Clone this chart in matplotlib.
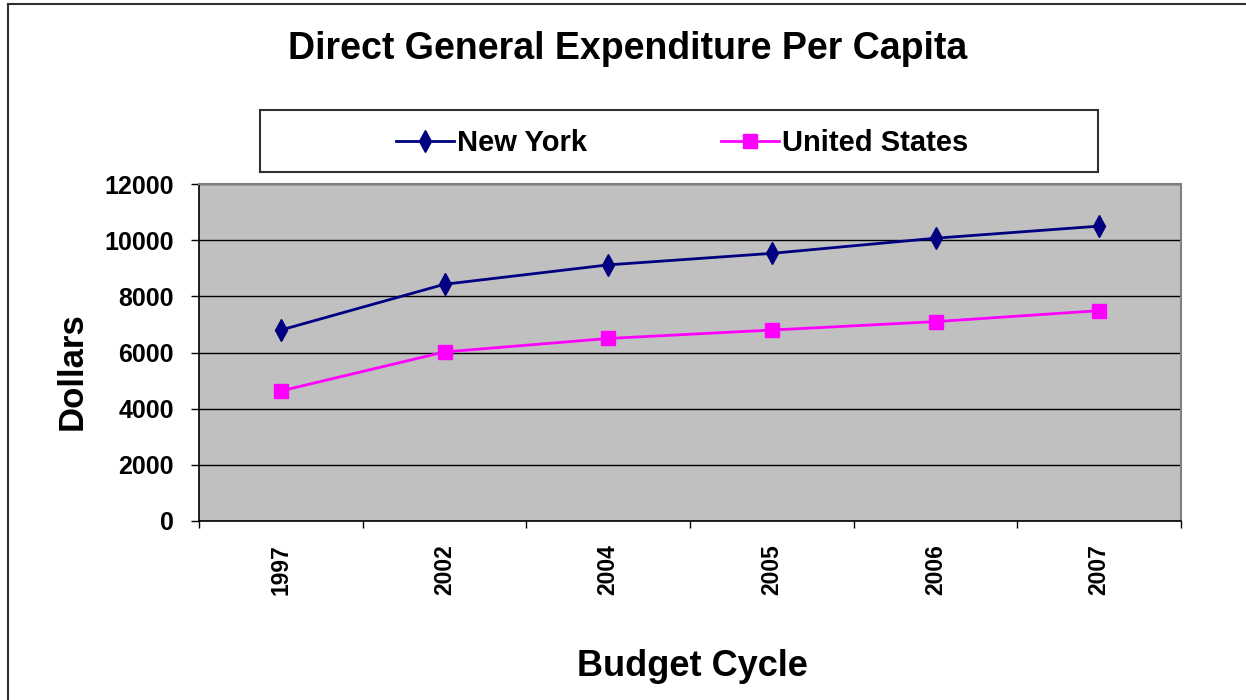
import numpy as np
import matplotlib
matplotlib.use("Agg")
import matplotlib.pyplot as plt
from matplotlib.patches import Rectangle
from matplotlib.lines import Line2D

plt.rcParams['font.family'] = ['Liberation Sans', 'DejaVu Sans']
plt.rcParams['font.weight'] = 'bold'

years = ['1997', '2002', '2004', '2005', '2006', '2007']
new_york = [6800, 8430, 9120, 9530, 10070, 10500]
united_states = [4630, 6020, 6500, 6800, 7100, 7490]
y_ticks = [0, 2000, 4000, 6000, 8000, 10000, 12000]

W, H = 1246, 700
fig = plt.figure(figsize=(W / 100, H / 100), dpi=100)
fig.patch.set_facecolor('white')

ax = fig.add_axes([199 / W, 1 - 521 / H, (1181 - 199) / W, (521 - 184) / H])
ax.set_facecolor('#C0C0C0')

x = np.arange(len(years))
ax.plot(x, new_york, color='#000080', lw=2, marker='d', markersize=11,
        markerfacecolor='#000080', markeredgecolor='#000080', label='New York')
ax.plot(x, united_states, color='#FF00FF', lw=2, marker='s', markersize=9.5,
        markerfacecolor='#FF00FF', markeredgecolor='#FF00FF', label='United States')

ax.set_xlim(-0.5, len(years) - 0.5)
ax.set_ylim(0, 12000)
ax.set_yticks(y_ticks)
ax.set_yticklabels([str(v) for v in y_ticks], fontsize=18, fontweight='bold')
ax.yaxis.grid(True, color='black', lw=1)
ax.set_axisbelow(True)

# boundaries get the tick marks, centres get the labels
ax.set_xticks(np.arange(len(years) + 1) - 0.5)
ax.set_xticklabels([])
ax.set_xticks(x, minor=True)
ax.set_xticklabels(years, minor=True, rotation=90, fontsize=16.5, fontweight='bold')
ax.tick_params(axis='x', which='minor', length=0, pad=17)
ax.tick_params(axis='x', which='major', length=5, width=1, direction='out', color='black')
ax.tick_params(axis='y', length=6, width=1, direction='out', pad=12, color='black')

for s in ['top', 'right']:
    ax.spines[s].set_color('#808080')
    ax.spines[s].set_linewidth(1.5)
for s in ['left', 'bottom']:
    ax.spines[s].set_color('black')
    ax.spines[s].set_linewidth(1.2)

# figure border (left and top only visible)
fig.add_artist(Line2D([8 / W, 8 / W], [0, 1 - 4 / H], color='#303030', lw=1.5))
fig.add_artist(Line2D([8 / W, 1], [1 - 4 / H, 1 - 4 / H], color='#303030', lw=1.5))

fig.text(628 / W, 1 - 49 / H, 'Direct General Expenditure Per Capita',
         ha='center', va='center', fontsize=27, fontweight='bold')
fig.text(72 / W, 1 - 371 / H, 'Dollars', rotation=90, ha='center', va='center',
         fontsize=25, fontweight='bold')
fig.text(692 / W, 1 - 667 / H, 'Budget Cycle', ha='center', va='center',
         fontsize=26, fontweight='bold')

# legend box
fig.add_artist(Rectangle((260 / W, 1 - 172 / H), (1098 - 260) / W, 62 / H,
                         transform=fig.transFigure, facecolor='white',
                         edgecolor='#303030', lw=1.5))
handles, labels = ax.get_legend_handles_labels()
leg = fig.legend(handles, labels, loc='center', bbox_to_anchor=(682 / W, 1 - 143 / H),
                 ncol=2, frameon=False, handlelength=2.0, handletextpad=0.1,
                 columnspacing=4.6, prop={'size': 21, 'weight': 'bold'})

fig.savefig('out.png', dpi=100)
